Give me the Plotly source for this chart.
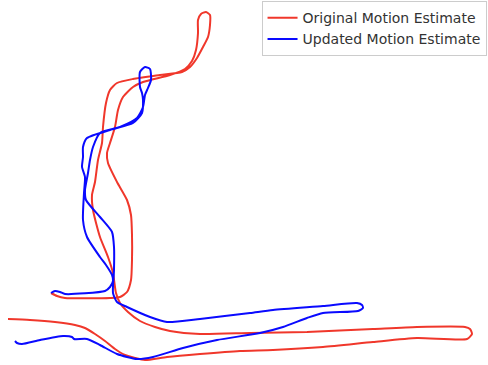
import plotly.graph_objects as go

# Trajectory estimates in metres, origin at the shared starting point
orig_x = [0.0, 0.6, 1.4, 5.9, 6.9, 7.6, 8.0, 8.1, 8.1, 8.0, 7.6, 6.6, 5.7, 5.6, 5.9, 6.4, 6.7, 7.2,
          8.2, 9.2, 11.9, 13.4, 14.1, 14.5, 14.7, 14.7, 15.0, 15.5, 15.9, 15.9, 15.7, 15.2, 14.6,
          13.9, 13.1, 10.9, 8.2, 6.6, 5.9, 5.5, 5.2, 5.1, 4.7, 4.4, 4.1, 4.2, 4.9, 5.7, 6.2, 6.5,
          6.9, 7.7, 8.9, 10.4, 11.9, 14.9, 19.9, 25.6, 32.2, 36.6, 41.4, 41.9, 42.1, 41.6, 36.6,
          32.2, 27.2, 22.2, 18.9, 14.9, 11.6, 9.4, 8.4, 7.4, 6.4, 5.4, 4.4, 3.4, 2.4, 0.4, -2.1, -4.3]
orig_y = [0.0, -0.3, -0.5, -0.5, -0.4, 0.1, 1.3, 3.3, 5.8, 7.8, 9.3, 11.1, 13.0, 14.0, 15.0, 16.6,
          18.3, 19.6, 20.6, 21.1, 21.8, 22.4, 23.2, 24.3, 26.0, 27.3, 27.9, 28.1, 27.8, 26.8, 25.6,
          24.6, 23.5, 22.6, 22.1, 21.8, 21.4, 21.0, 20.3, 19.0, 16.6, 15.0, 13.3, 11.1, 9.8, 8.3,
          5.6, 3.6, 2.0, 0.0, -1.0, -1.9, -2.8, -3.4, -3.8, -4.1, -4.0, -3.9, -3.6, -3.4, -3.4,
          -3.6, -4.1, -4.6, -4.5, -4.9, -5.4, -5.7, -5.8, -6.1, -6.4, -6.7, -6.5, -6.2, -5.6, -4.8,
          -4.1, -3.5, -3.2, -2.9, -2.7, -2.6]

upd_x = [0.0, 0.4, 0.9, 1.4, 5.4, 5.9, 6.2, 6.1, 5.5, 4.9, 3.6, 3.2, 3.3, 3.4, 3.1, 3.2, 3.2, 3.6,
         5.9, 8.2, 9.1, 9.2, 9.1, 8.9, 8.9, 9.4, 9.9, 10.0, 9.7, 9.4, 9.2, 8.6, 6.9, 4.9, 4.2, 3.9,
         3.7, 3.4, 3.5, 4.9, 6.1, 6.3, 6.3, 6.2, 6.6, 7.6, 9.9, 11.6, 14.9, 19.9, 22.2, 27.2, 30.6,
         31.1, 31.2, 30.7, 27.2, 25.6, 23.2, 20.9, 16.6, 13.2, 10.2, 8.6, 6.6, 4.9, 3.6, 2.3, 2.1,
         1.2, -1.1, -2.9, -3.4, -3.6]
upd_y = [0.0, 0.2, 0.1, -0.1, 0.2, 0.6, 1.2, 1.8, 2.8, 3.6, 5.6, 7.3, 10.0, 11.6, 12.6, 13.6, 14.6,
         15.5, 16.3, 17.0, 18.0, 19.3, 20.0, 20.6, 22.1, 22.6, 22.4, 21.3, 20.5, 19.8, 18.6, 17.5,
         16.6, 16.0, 14.6, 13.3, 12.0, 10.3, 9.3, 7.6, 6.1, 4.6, 2.3, 0.0, -0.9, -1.4, -2.4, -2.9,
         -2.6, -2.0, -1.7, -1.3, -1.0, -1.2, -1.5, -1.8, -2.0, -2.5, -3.4, -4.0, -4.7, -5.5, -6.4,
         -6.6, -6.1, -5.2, -4.6, -4.6, -4.4, -4.3, -4.7, -5.1, -5.0, -4.8]

series_names = ["Original Motion Estimate", "Updated Motion Estimate"]
series_colors = ["#f0372b", "#0a0aff"]

fig = go.Figure()
for name, xs, ys, col in zip(series_names, [orig_x, upd_x], [orig_y, upd_y], series_colors):
    fig.add_trace(go.Scatter(
        x=xs, y=ys, mode="lines", name=name,
        line=dict(color=col, width=2, shape="spline", smoothing=0.6),
    ))

fig.update_layout(
    width=488, height=365,
    margin=dict(l=0, r=0, t=0, b=0),
    paper_bgcolor="white", plot_bgcolor="white",
    xaxis=dict(visible=False, range=[-5.1, 43.7]),
    yaxis=dict(visible=False, range=[-7.2, 29.3]),
    showlegend=True,
    legend=dict(
        x=0.997, y=0.997, xanchor="right", yanchor="top",
        bgcolor="white", bordercolor="#cccccc", borderwidth=1,
        font=dict(family="DejaVu Sans", size=14, color="#333333"),
        itemwidth=30,
    ),
)

fig.write_html("out.html")
